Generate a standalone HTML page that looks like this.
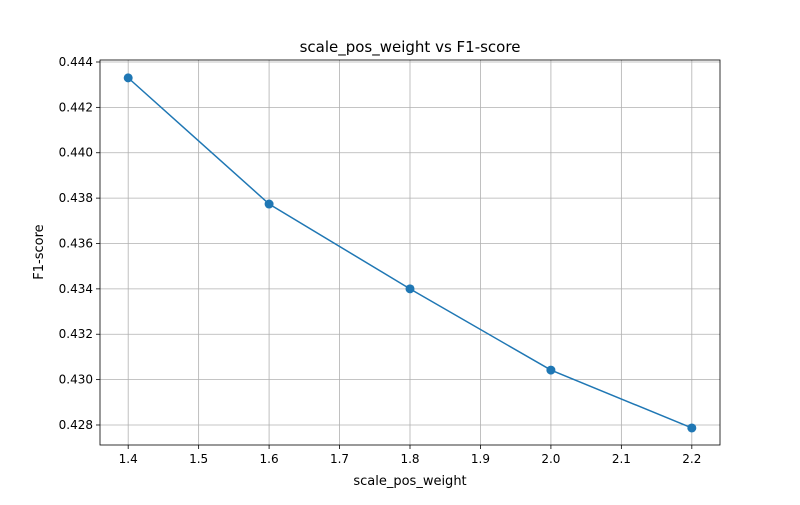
<!DOCTYPE html>
<html><head><meta charset="utf-8"><style>
body{margin:0;background:#fff;font-family:"Liberation Sans","DejaVu Sans",sans-serif;}
svg text{font-family:"DejaVu Sans","Liberation Sans",sans-serif;fill:#000;}
</style></head><body>
<svg id="chart" width="800" height="500" xmlns="http://www.w3.org/2000/svg">
<rect width="800" height="500" fill="#fff"/>
<g id="grid"></g>
<g id="axes"></g>
<g id="series"></g>
<text x="410" y="52" font-size="15" text-anchor="middle">scale_pos_weight vs F1-score</text>
<text x="410" y="485" font-size="13" text-anchor="middle">scale_pos_weight</text>
<text transform="translate(43,252) rotate(-90)" font-size="13" text-anchor="middle">F1-score</text>
</svg>
<script>
const xValues=[1.4,1.6,1.8,2.0,2.2];
const f1Values=[0.44330,0.43774,0.43400,0.43042,0.42787];
const xTicks=[1.4,1.5,1.6,1.7,1.8,1.9,2.0,2.1,2.2];
const yTicks=[0.428,0.430,0.432,0.434,0.436,0.438,0.440,0.442,0.444];
const L=100,R=720,T=60,B=445;
const xMin=1.36,xMax=2.24,yMin=0.427118,yMax=0.444088;
const sx=v=>L+(v-xMin)/(xMax-xMin)*(R-L);
const sy=v=>B-(v-yMin)/(yMax-yMin)*(B-T);
const NS="http://www.w3.org/2000/svg";
function mk(t,a,p){const e=document.createElementNS(NS,t);for(const k in a)e.setAttribute(k,a[k]);p.appendChild(e);return e;}
const grid=document.getElementById('grid'),axes=document.getElementById('axes'),ser=document.getElementById('series');
xTicks.forEach(v=>{const x=sx(v);
 const g=mk('line',{x1:x,x2:x,y1:T,y2:B,stroke:'#b0b0b0','stroke-width':0.8},grid);
 
 mk('line',{x1:x,x2:x,y1:B,y2:B+4,stroke:'#000','stroke-width':0.8},axes);
 const t=mk('text',{x:x,y:B+18,'font-size':12,'text-anchor':'middle'},axes);t.textContent=v.toFixed(1);
 });
yTicks.forEach(v=>{const y=sy(v);
 const g=mk('line',{x1:L,x2:R,y1:y,y2:y,stroke:'#b0b0b0','stroke-width':0.8},grid);
 
 mk('line',{x1:L-4,x2:L,y1:y,y2:y,stroke:'#000','stroke-width':0.8},axes);
 const t=mk('text',{x:L-7,y:y+4,'font-size':12,'text-anchor':'end'},axes);t.textContent=v.toFixed(3);
 });
const frame=mk('rect',{x:L,y:T,width:R-L,height:B-T,fill:'none',stroke:'#000','stroke-width':0.8},axes);

const pts=xValues.map((v,i)=>sx(v)+','+sy(f1Values[i])).join(' ');
const pl=mk('polyline',{points:pts,fill:'none',stroke:'#1f77b4','stroke-width':1.5},ser);

xValues.forEach((v,i)=>{const c=mk('circle',{cx:sx(v),cy:sy(f1Values[i]),r:4.5,fill:'#1f77b4'},ser);
 });
</script>
</body></html>
